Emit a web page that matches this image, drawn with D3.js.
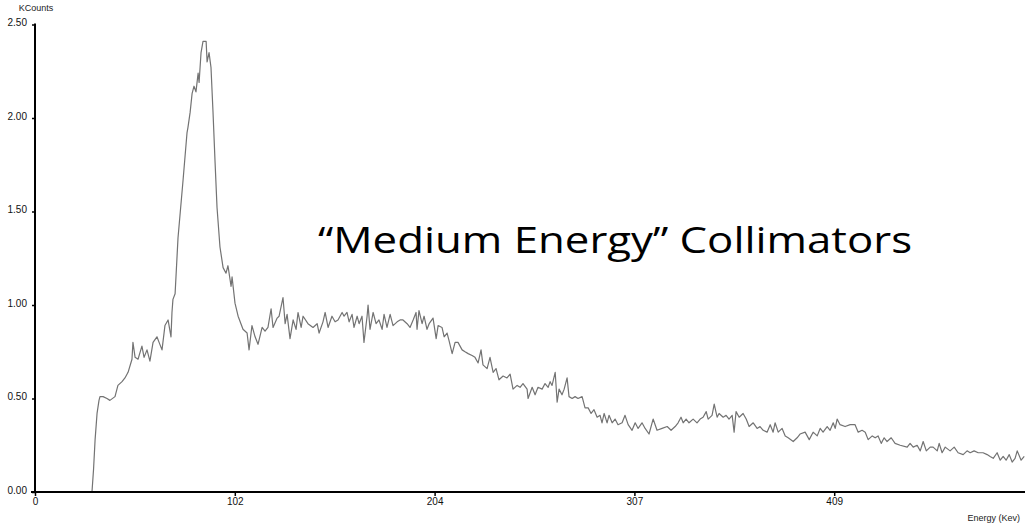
<!DOCTYPE html>
<html>
<head>
<meta charset="utf-8">
<script src="https://cdn.jsdelivr.net/npm/d3@7"></script>
<style>
  html, body { margin: 0; padding: 0; background: #fff; }
  svg { display: block; }
</style>
</head>
<body>
<svg id="chart" width="1025" height="524"></svg>
<script>
// ---- data ----
const energyKeV = [
  0, 29.2, 30.0, 30.8, 31.8, 32.8, 33.3, 34.9, 36.9, 38.4, 41.0, 42.5, 44.6, 46.1, 47.7, 49.7, 50.2, 51.3, 52.8, 54.8,
  55.9, 57.4, 58.9, 60.5, 62.5, 63.6, 65.1, 66.6, 68.2, 69.7, 70.2, 70.7, 71.8, 73.3, 75.9, 77.9, 78.4, 79.5, 80.5, 81.5,
  82.5, 83.6, 84.1, 85.1, 86.1, 87.7, 88.2, 89.2, 90.2, 91.2, 92.3, 93.3, 94.8, 96.4, 97.9, 98.9, 100.5, 101.0, 102.5, 104.1,
  106.6, 108.7, 109.7, 111.2, 112.8, 114.3, 116.4, 117.9, 119.4, 121.0, 122.0, 124.1, 125.1, 127.1, 128.2, 129.2, 130.7, 132.3, 133.8, 134.8,
  136.4, 137.4, 139.9, 142.5, 144.6, 145.6, 147.6, 148.7, 150.2, 152.2, 153.8, 155.3, 157.4, 158.4, 159.9, 161.0, 162.5, 163.5, 165.1, 166.1,
  167.6, 168.6, 170.2, 170.7, 171.7, 173.3, 174.8, 176.3, 177.9, 178.9, 180.4, 182.0, 183.5, 185.6, 187.1, 188.6, 190.7, 192.2, 193.8, 195.3,
  195.8, 196.8, 198.4, 199.4, 200.9, 202.0, 204.0, 205.6, 206.6, 208.6, 209.7, 211.2, 212.2, 213.8, 215.3, 216.8, 218.9, 220.4, 222.0, 224.0,
  225.5, 227.1, 228.6, 229.6, 231.7, 233.2, 234.8, 236.3, 237.8, 239.9, 241.9, 243.5, 245.0, 247.1, 248.6, 250.1, 252.2, 252.7, 254.8, 256.3,
  257.8, 259.9, 261.4, 263.0, 264.0, 265.0, 266.6, 267.6, 268.6, 270.1, 271.2, 272.7, 273.7, 275.3, 276.8, 278.3, 280.4, 281.9, 283.5, 285.0,
  286.5, 288.1, 289.6, 290.6, 291.7, 293.2, 294.2, 295.8, 297.3, 298.8, 300.9, 302.4, 304.0, 306.0, 307.6, 309.1, 311.1, 312.7, 314.7, 316.8,
  318.8, 321.4, 324.0, 326.0, 328.1, 329.6, 331.1, 332.2, 333.7, 335.2, 337.3, 339.3, 340.9, 342.4, 344.0, 345.0, 347.0, 348.1, 349.6, 350.6,
  352.7, 354.2, 355.7, 357.3, 358.3, 359.3, 360.9, 362.9, 364.5, 366.0, 368.1, 370.1, 371.6, 373.2, 375.2, 376.8, 378.3, 379.3, 380.9, 382.9,
  384.5, 386.0, 388.6, 390.6, 392.1, 394.7, 396.8, 398.8, 400.9, 402.4, 403.9, 406.0, 407.5, 409.1, 410.1, 411.1, 412.6, 415.2, 417.8, 420.3,
  421.9, 423.9, 425.5, 427.0, 429.1, 430.6, 432.1, 433.7, 435.2, 436.7, 438.8, 440.8, 443.4, 447.0, 448.5, 450.1, 452.1, 453.7, 455.2, 456.8,
  458.8, 460.3, 462.4, 463.4, 464.9, 466.5, 469.0, 471.1, 473.1, 475.7, 477.7, 479.3, 481.3, 483.4, 485.9, 488.0, 489.5, 491.1, 493.1, 494.7,
  496.2, 497.7, 499.3, 500.8, 502.3, 503.4, 505.4, 507.0
];
const kCounts = [
  0.00, 0.00, 0.12, 0.28, 0.42, 0.49, 0.51, 0.51, 0.50, 0.49, 0.51, 0.57, 0.59, 0.61, 0.64, 0.71, 0.80, 0.72, 0.71, 0.78,
  0.72, 0.76, 0.70, 0.80, 0.83, 0.80, 0.76, 0.89, 0.92, 0.83, 0.96, 1.03, 1.06, 1.36, 1.67, 1.92, 1.95, 2.03, 2.13, 2.17,
  2.14, 2.24, 2.19, 2.35, 2.41, 2.41, 2.30, 2.35, 2.27, 2.04, 1.76, 1.52, 1.31, 1.20, 1.17, 1.21, 1.10, 1.15, 1.01, 0.94,
  0.87, 0.85, 0.76, 0.89, 0.83, 0.79, 0.88, 0.86, 0.88, 0.98, 0.88, 0.93, 0.94, 1.04, 0.90, 0.95, 0.82, 0.92, 0.87, 0.96,
  0.88, 0.94, 0.90, 0.88, 0.90, 0.85, 0.91, 0.96, 0.88, 0.94, 0.91, 0.92, 0.96, 0.94, 0.96, 0.91, 0.95, 0.88, 0.94, 0.90,
  0.94, 0.80, 0.94, 1.00, 0.87, 0.96, 0.90, 0.92, 0.87, 0.95, 0.88, 0.95, 0.89, 0.91, 0.92, 0.92, 0.90, 0.88, 0.92, 0.96,
  0.87, 0.97, 0.90, 0.94, 0.87, 0.90, 0.93, 0.82, 0.89, 0.88, 0.83, 0.85, 0.81, 0.74, 0.80, 0.80, 0.76, 0.75, 0.74, 0.73,
  0.72, 0.69, 0.76, 0.68, 0.66, 0.72, 0.64, 0.66, 0.60, 0.62, 0.61, 0.63, 0.55, 0.57, 0.56, 0.58, 0.55, 0.50, 0.56, 0.52,
  0.56, 0.55, 0.58, 0.56, 0.59, 0.57, 0.64, 0.48, 0.55, 0.52, 0.55, 0.61, 0.51, 0.50, 0.51, 0.50, 0.51, 0.45, 0.45, 0.42,
  0.44, 0.40, 0.41, 0.37, 0.42, 0.37, 0.41, 0.37, 0.39, 0.36, 0.37, 0.41, 0.36, 0.33, 0.37, 0.34, 0.37, 0.34, 0.31, 0.39,
  0.33, 0.34, 0.35, 0.33, 0.35, 0.37, 0.40, 0.37, 0.39, 0.37, 0.39, 0.37, 0.39, 0.40, 0.43, 0.39, 0.41, 0.47, 0.40, 0.42,
  0.40, 0.41, 0.39, 0.41, 0.32, 0.43, 0.40, 0.42, 0.39, 0.35, 0.37, 0.34, 0.35, 0.33, 0.32, 0.36, 0.32, 0.37, 0.32, 0.34,
  0.30, 0.29, 0.27, 0.29, 0.31, 0.32, 0.28, 0.32, 0.30, 0.34, 0.32, 0.35, 0.33, 0.37, 0.34, 0.39, 0.36, 0.35, 0.36, 0.36,
  0.32, 0.33, 0.32, 0.28, 0.30, 0.29, 0.30, 0.26, 0.29, 0.27, 0.29, 0.26, 0.25, 0.24, 0.26, 0.24, 0.25, 0.22, 0.27, 0.22,
  0.24, 0.24, 0.22, 0.26, 0.21, 0.24, 0.22, 0.24, 0.21, 0.20, 0.22, 0.21, 0.22, 0.21, 0.21, 0.20, 0.19, 0.18, 0.21, 0.17,
  0.19, 0.17, 0.20, 0.16, 0.18, 0.22, 0.17, 0.19
];
const yTickValues = [0, 0.5, 1.0, 1.5, 2.0, 2.5];
const yTickLabels = ["0.00", "0.50", "1.00", "1.50", "2.00", "2.50"];
const xTickValues = [0, 102.4, 204.8, 307.2, 409.6];
const xTickLabels = ["0", "102", "204", "307", "409"];
const yAxisTitle = "KCounts";
const xAxisTitle = "Energy (Kev)";
const annotation = "\u201CMedium Energy\u201D Collimators";

// ---- drawing ----
const svg = d3.select("#chart");
const x = d3.scaleLinear().domain([0, 512]).range([35, 1034]);
const y = d3.scaleLinear().domain([0, 2.5]).range([492, 24.5]);

const data = energyKeV.map((e, i) => ({ e, v: kCounts[i] }));

// spectrum line
svg.append("path")
  .datum(data)
  .attr("fill", "none")
  .attr("stroke", "#737373")
  .attr("stroke-width", 1.2)
  .attr("stroke-linejoin", "round")
  .attr("d", d3.line().x(d => x(d.e)).y(d => y(d.v)));

// y axis
const yAxis = d3.axisLeft(y)
  .tickValues(yTickValues)
  .tickFormat((d, i) => yTickLabels[i])
  .tickSize(3)
  .tickPadding(5);
const gy = svg.append("g").attr("transform", "translate(35,0)").call(yAxis);
gy.select(".domain").attr("stroke", "#000").attr("stroke-width", 2)
  .attr("d", `M0,${y(2.5) - 1}V${y(0)}`);
gy.selectAll(".tick line").attr("stroke", "#000").attr("stroke-width", 1.5);
gy.selectAll(".tick text")
  .attr("font-family", "'Liberation Sans', Arial, sans-serif")
  .attr("font-size", 10)
  .attr("fill", "#111")
  .attr("dy", "0.1em");

// x axis
const xAxis = d3.axisBottom(x)
  .tickValues(xTickValues)
  .tickFormat((d, i) => xTickLabels[i])
  .tickSize(4)
  .tickPadding(2);
const gx = svg.append("g").attr("transform", `translate(0,${y(0)})`).call(xAxis);
gx.select(".domain").attr("stroke", "#000").attr("stroke-width", 2.2)
  .attr("d", `M${x(0) - 4},0H1025`);
gx.selectAll(".tick line").attr("stroke", "#000").attr("stroke-width", 1.5);
gx.selectAll(".tick text")
  .attr("font-family", "'Liberation Sans', Arial, sans-serif")
  .attr("font-size", 10)
  .attr("fill", "#111");

// axis titles
svg.append("text")
  .attr("x", 36).attr("y", 11)
  .attr("text-anchor", "middle")
  .attr("font-family", "'Liberation Sans', Arial, sans-serif")
  .attr("font-size", 9)
  .attr("fill", "#222")
  .text(yAxisTitle);
svg.append("text")
  .attr("x", 1020).attr("y", 521)
  .attr("text-anchor", "end")
  .attr("font-family", "'Liberation Sans', Arial, sans-serif")
  .attr("font-size", 9)
  .attr("fill", "#222")
  .text(xAxisTitle);

// annotation
svg.append("text")
  .attr("x", 318).attr("y", 253)
  .attr("font-family", "'Open Sans', 'Noto Sans', sans-serif")
  .attr("font-size", 37)
  .attr("fill", "#000")
  .attr("textLength", 594)
  .attr("lengthAdjust", "spacingAndGlyphs")
  .text(annotation);
</script>
</body>
</html>
